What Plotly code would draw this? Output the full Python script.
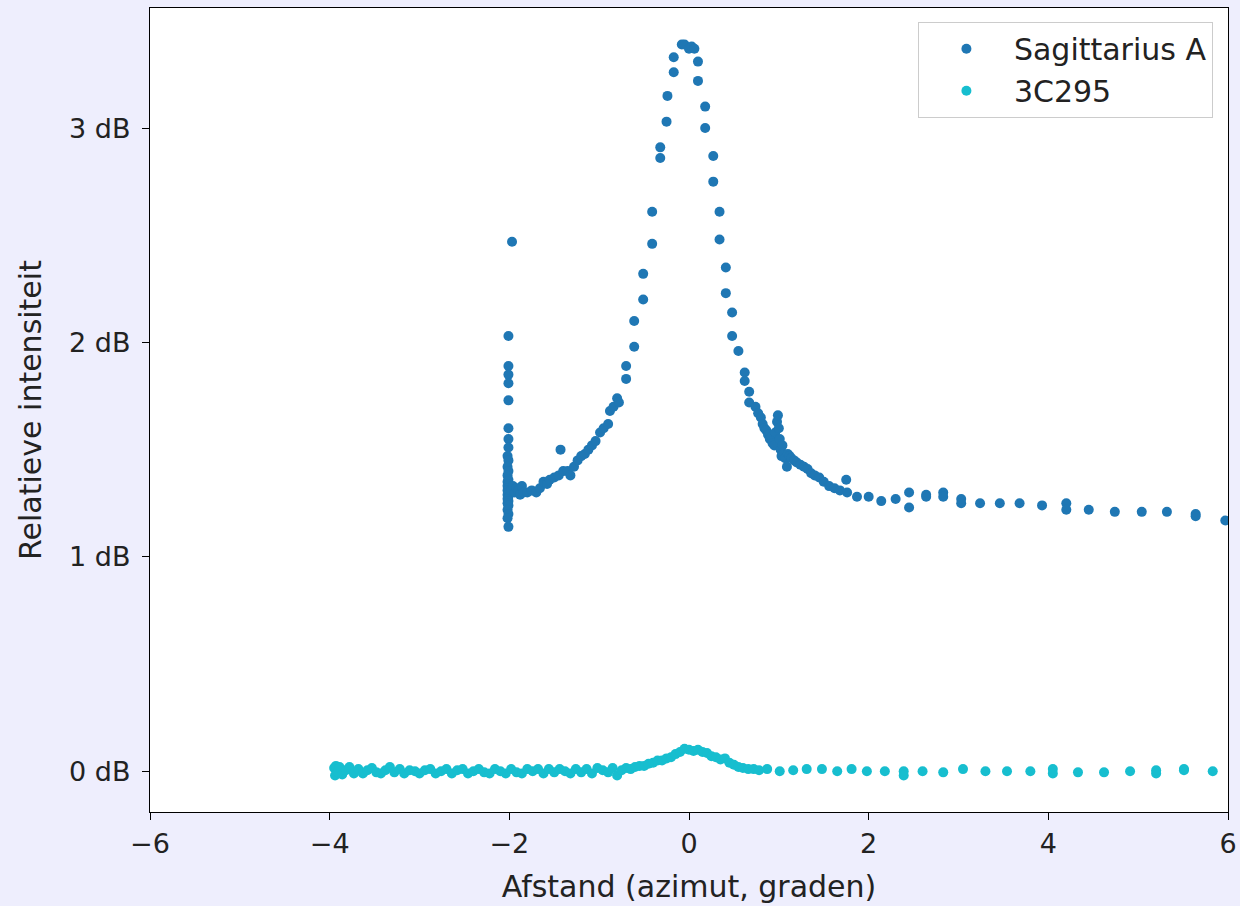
import plotly.graph_objects as go

# Sagittarius A
sgr_x = [-1.97, -2.01, -2.01, -2.01, -2.01, -2.01, -2.01, -2.01, -2.01, -2.02, -2.01, -2.02, -2.01, -2.02,
         -2.01, -2.02, -2.01, -2.02, -2.01, -2.02, -2.01, -2.02, -2.01, -2.02, -2.01, -2.02, -2.01, -2.02,
         -2.01, -2.02, -2.01,
         -1.98, -1.96, -1.94, -1.92, -1.90, -1.88, -1.86, -1.84,
         -1.80, -1.75, -1.70, -1.66, -1.62, -1.58, -1.55, -1.50, -1.45, -1.43, -1.40, -1.35, -1.32, -1.28,
         -1.24, -1.20, -1.16, -1.12, -1.08, -1.04, -0.99, -0.95, -0.90, -0.88, -0.84, -0.80, -0.78,
         -0.70, -0.70, -0.61, -0.61, -0.51, -0.51, -0.41, -0.41, -0.32, -0.32, -0.25, -0.24, -0.17, -0.17,
         -0.08, -0.05, 0.00, 0.03, 0.06, 0.10, 0.10, 0.18, 0.18, 0.27, 0.27, 0.34, 0.34, 0.41, 0.41,
         0.48, 0.48, 0.55, 0.62, 0.62, 0.67, 0.67, 0.74, 0.77, 0.80, 0.82, 0.84, 0.86, 0.88, 0.90,
         0.92, 0.93, 0.95, 0.96, 0.98, 0.99, 1.00, 1.01, 1.02, 1.03, 1.04, 1.05, 1.07, 1.09, 1.10,
         1.12, 1.14, 1.17, 1.20, 1.24, 1.28, 1.32, 1.36, 1.40, 1.45, 1.50, 1.56, 1.62, 1.68, 1.75,
         1.76, 1.87, 2.00, 2.14, 2.30, 2.45, 2.45, 2.64, 2.64, 2.83, 2.83, 3.03, 3.03, 3.24, 3.46,
         3.68, 3.93, 4.20, 4.20, 4.45, 4.74, 5.04, 5.32, 5.64, 5.64, 5.97]
sgr_y = [2.47, 2.03, 1.89, 1.85, 1.81, 1.73, 1.60, 1.55, 1.51, 1.47, 1.45, 1.42, 1.40, 1.38,
         1.36, 1.35, 1.34, 1.33, 1.32, 1.31, 1.30, 1.29, 1.28, 1.27, 1.26, 1.25, 1.24, 1.22,
         1.20, 1.18, 1.14,
         1.31, 1.33, 1.30, 1.32, 1.31, 1.29, 1.33, 1.30,
         1.30, 1.31, 1.30, 1.32, 1.35, 1.34, 1.36, 1.37, 1.38, 1.50, 1.40, 1.40, 1.38, 1.42,
         1.45, 1.47, 1.48, 1.50, 1.52, 1.54, 1.58, 1.60, 1.62, 1.68, 1.70, 1.74, 1.72,
         1.83, 1.89, 1.98, 2.10, 2.20, 2.32, 2.46, 2.61, 2.86, 2.91, 3.03, 3.15, 3.26, 3.33,
         3.39, 3.39, 3.37, 3.38, 3.37, 3.31, 3.22, 3.10, 3.00, 2.87, 2.75, 2.61, 2.48, 2.35, 2.23,
         2.14, 2.03, 1.96, 1.86, 1.82, 1.77, 1.72, 1.70, 1.67, 1.65, 1.62, 1.60, 1.59, 1.57, 1.55,
         1.56, 1.53, 1.52, 1.58, 1.63, 1.66, 1.60, 1.55, 1.50, 1.47, 1.52, 1.48, 1.46, 1.42, 1.48,
         1.47, 1.46, 1.45, 1.44, 1.43, 1.42, 1.41, 1.39, 1.38, 1.37, 1.35, 1.33, 1.32, 1.31, 1.36,
         1.30, 1.28, 1.28, 1.26, 1.27, 1.30, 1.23, 1.29, 1.28, 1.30, 1.28, 1.27, 1.25, 1.25, 1.25,
         1.25, 1.24, 1.25, 1.22, 1.22, 1.21, 1.21, 1.21, 1.20, 1.19, 1.17]

# 3C295
c3_x = [-3.95, -3.94, -3.93, -3.91, -3.89, -3.86, -3.82, -3.78, -3.73, -3.68, -3.63, -3.58, -3.53, -3.48,
        -3.43, -3.38, -3.33, -3.28, -3.22, -3.17, -3.11, -3.05, -3.00, -2.94, -2.88, -2.82, -2.76,
        -2.70, -2.64, -2.58, -2.52, -2.46, -2.40, -2.34, -2.28, -2.22, -2.16, -2.10, -2.04, -1.98,
        -1.92, -1.86, -1.80, -1.74, -1.68, -1.62, -1.56, -1.50, -1.44, -1.38, -1.32, -1.26, -1.20,
        -1.14, -1.08, -1.02, -0.96, -0.90, -0.85, -0.80, -0.75, -0.70, -0.65, -0.60, -0.55,
        -0.50, -0.45, -0.40, -0.35, -0.30, -0.25, -0.20, -0.15, -0.10, -0.05, 0.00, 0.05, 0.10,
        0.15, 0.20, 0.25, 0.30, 0.35, 0.40, 0.45, 0.50, 0.55, 0.60, 0.66, 0.72, 0.78,
        0.87, 1.01, 1.16, 1.31, 1.48, 1.65, 1.81, 1.98, 2.18, 2.39, 2.39, 2.60, 2.83, 3.05, 3.30,
        3.54, 3.80, 4.05, 4.05, 4.33, 4.62, 4.91, 5.20, 5.20, 5.51, 5.51, 5.83]
c3_y = [0.015, -0.02, 0.025, -0.005, 0.02, -0.015, 0.005, 0.02, -0.01, 0.01, -0.01, 0.005, 0.015, -0.005,
        -0.01, 0.005, 0.02, -0.005, 0.01, -0.01, 0.005, 0.00, -0.01, 0.005, 0.01, -0.01, 0.00,
        0.01, -0.01, 0.005, 0.01, -0.01, 0.00, 0.01, -0.005, -0.01, 0.01, 0.00, -0.01, 0.01,
        -0.005, -0.01, 0.01, 0.00, 0.01, -0.01, 0.01, -0.005, 0.01, 0.00, -0.01, 0.01, -0.005,
        0.01, -0.01, 0.015, 0.005, -0.005, 0.015, -0.02, 0.005, 0.015, 0.01, 0.02, 0.025,
        0.025, 0.035, 0.04, 0.05, 0.05, 0.06, 0.065, 0.08, 0.09, 0.105, 0.10, 0.095, 0.10,
        0.09, 0.085, 0.07, 0.065, 0.055, 0.06, 0.04, 0.03, 0.02, 0.015, 0.01, 0.01, 0.005,
        0.01, 0.00, 0.005, 0.01, 0.01, 0.00, 0.01, 0.00, 0.00, 0.00, -0.02, 0.00, -0.005, 0.01, 0.00,
        0.00, 0.00, 0.01, -0.01, -0.005, -0.005, 0.00, -0.01, 0.005, 0.005, 0.01, 0.00]

x_ticks = [-6, -4, -2, 0, 2, 4, 6]
x_tick_text = ["\u22126", "\u22124", "\u22122", "0", "2", "4", "6"]
y_ticks = [0, 1, 2, 3]
y_tick_text = ["0 dB", "1 dB", "2 dB", "3 dB"]

font_fam = "DejaVu Sans"
txt_col = "#222222"

fig = go.Figure()
fig.add_trace(go.Scatter(x=sgr_x, y=sgr_y, mode="markers", name="Sagittarius A",
                         marker=dict(color="#1f77b4", size=10, line=dict(width=0))))
fig.add_trace(go.Scatter(x=c3_x, y=c3_y, mode="markers", name="3C295",
                         marker=dict(color="#17becf", size=10, line=dict(width=0))))

axis_common = dict(showgrid=False, zeroline=False, showline=True, linecolor="black", linewidth=1.3,
                   mirror=True, ticks="outside", ticklen=7, tickwidth=1.2, tickcolor="black",
                   tickfont=dict(family=font_fam, size=27, color=txt_col))

fig.update_layout(
    width=1240, height=906,
    paper_bgcolor="#eeeefd", plot_bgcolor="white",
    margin=dict(l=150, r=12, t=8, b=94, autoexpand=False),
    font=dict(family=font_fam, size=27, color=txt_col),
    xaxis=dict(range=[-6, 6], tickvals=x_ticks, ticktext=x_tick_text,
               title=dict(text="Afstand (azimut, graden)", font=dict(size=30), standoff=18),
               **axis_common),
    yaxis=dict(range=[-0.19, 3.56], tickvals=y_ticks, ticktext=y_tick_text, ticklabelstandoff=6,
               title=dict(text="Relatieve intensiteit", font=dict(size=30), standoff=18),
               **axis_common),
    legend=dict(x=0.986, y=0.983, xanchor="right", yanchor="top", bgcolor="white",
                bordercolor="#cccccc", borderwidth=1, font=dict(size=30, color=txt_col),
                itemwidth=85, tracegroupgap=0),
    showlegend=True,
)

fig.write_html("out.html")
